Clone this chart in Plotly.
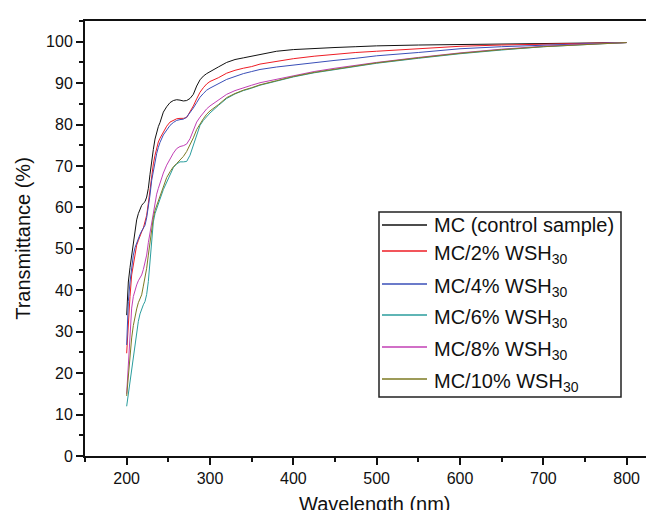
import plotly.graph_objects as go

wavelength = [200, 202, 204, 206, 208, 210, 212, 214, 216, 218, 220, 222, 224, 226, 228, 230,
              232, 234, 236, 238, 240, 244, 248, 252, 256, 260, 264, 268, 272, 276, 280, 284,
              288, 292, 296, 300, 310, 320, 330, 340, 350, 360, 380, 400, 425, 450, 475, 500,
              550, 600, 650, 700, 750, 800]

mc_control = [34, 42, 45.5, 48.5, 52, 55, 57, 58.5, 59.8, 60.5, 61, 61.4, 62.5, 64.6, 68, 71.8,
              74, 76.5, 78.2, 79.5, 80.5, 83, 84.3, 85.3, 85.8, 86, 85.9, 85.7, 85.8, 86.3, 87.3, 89.3,
              90.8, 91.7, 92.3, 92.8, 93.9, 95, 95.7, 96.1, 96.5, 97, 97.7, 98.1, 98.4, 98.6, 98.8, 99,
              99.2, 99.3, 99.4, 99.5, 99.6, 99.8]

mc_2 = [24.8, 32.5, 38.5, 43.7, 46.5, 49, 50.9, 52, 53.2, 54.1, 55, 56.5, 58.1, 61, 64.6, 68,
        70.5, 72.6, 74.3, 75.8, 76.7, 78.3, 79.6, 80.6, 81.1, 81.4, 81.5, 81.5, 81.7, 83, 84.5, 86.2,
        87.8, 88.9, 89.8, 90.4, 91.3, 92.4, 93.1, 93.6, 94, 94.6, 95.3, 95.9, 96.5, 97, 97.4, 97.7,
        98.3, 98.9, 99.2, 99.4, 99.6, 99.8]

mc_4 = [26.8, 37.3, 42, 46, 48.5, 50.3, 51.5, 52.5, 53.5, 54.3, 55, 55.7, 57.5, 60, 63, 66.5,
        69, 71, 73, 74.5, 75.7, 77.5, 78.8, 79.8, 80.5, 81, 81.2, 81.3, 81.8, 82.8, 84, 85.3,
        86.6, 87.5, 88.3, 88.8, 89.8, 90.9, 91.6, 92.3, 92.8, 93.3, 93.9, 94.4, 95, 95.5, 96, 96.6,
        97.4, 98.3, 98.8, 99.2, 99.5, 99.8]

mc_6 = [12, 15, 18.5, 21.2, 24, 27, 30, 32.5, 34.3, 35.5, 36.5, 37.3, 39, 42.1, 47.5, 53.3,
        56.5, 58.5, 59.8, 60.6, 62, 64.3, 66.2, 68, 69.6, 70.5, 71, 71, 71.1, 72.6, 75, 77.8,
        79.8, 81, 82, 82.8, 84.6, 86.3, 87.4, 88.2, 88.8, 89.5, 90.5, 91.5, 92.5, 93.3, 94, 94.8,
        96, 97.1, 98, 98.8, 99.3, 99.8]

mc_8 = [15, 23, 30, 35.7, 38.5, 40.3, 41.3, 42.3, 43, 43.7, 45, 46.8, 48.5, 51.5, 54, 56.5,
        59, 61.3, 63.2, 64.6, 66, 68.3, 70.2, 71.7, 73.1, 74.2, 74.7, 74.9, 75.3, 76.6, 78.8, 80.6,
        81.8, 82.9, 83.8, 84.5, 86, 87.3, 88.2, 88.9, 89.5, 90.1, 90.9, 91.8, 92.8, 93.6, 94.3, 95,
        96.2, 97.3, 98.2, 98.9, 99.4, 99.8]

mc_10 = [14.5, 19, 25.2, 28.5, 31.5, 34, 35.5, 37, 38, 38.9, 41, 43, 45.3, 48.5, 52, 55.4,
         57.5, 59.3, 60.5, 61.4, 62.7, 65.3, 67.2, 68.6, 69.8, 70.6, 71.4, 72.3, 73.5, 75, 76.8, 78.8,
         80.2, 81.4, 82.5, 83.3, 84.8, 86.5, 87.5, 88.3, 88.9, 89.6, 90.6, 91.6, 92.6, 93.4, 94.1, 94.9,
         96.1, 97.2, 98.1, 98.8, 99.3, 99.8]

series_names = ["MC (control sample)", "MC/2% WSH<sub>30</sub>", "MC/4% WSH<sub>30</sub>",
                "MC/6% WSH<sub>30</sub>", "MC/8% WSH<sub>30</sub>", "MC/10% WSH<sub>30</sub>"]
series_values = [mc_control, mc_2, mc_4, mc_6, mc_8, mc_10]
series_colors = ["#111111", "#ee1c24", "#3a4fb8", "#2a9d9d", "#c23fb5", "#7d7a22"]

FONT = "Liberation Sans, Arial, sans-serif"

# plot area geometry (pixels) used to place the hand-drawn legend box
L, R, T, B, W, H = 77, 0, 13, 62, 654, 510
PW, PH = W - L - R, H - T - B
def px(x):
    return (x - L) / PW
def py(y):
    return (H - B - y) / PH

fig = go.Figure()
for name, vals, col in zip(series_names, series_values, series_colors):
    fig.add_trace(go.Scatter(x=wavelength, y=vals, mode="lines", name=name,
                             showlegend=False, line=dict(color=col, width=1)))

# legend (box, line samples, labels)
shapes = [dict(type="rect", xref="paper", yref="paper", x0=px(371), x1=px(613),
               y0=py(389), y1=py(204), line=dict(color="#222222", width=1.5),
               fillcolor="white", layer="above")]
annotations = []
row_y = [217, 243, 276, 307, 339, 371]
for name, col, ry in zip(series_names, series_colors, row_y):
    shapes.append(dict(type="line", xref="paper", yref="paper", x0=px(374), x1=px(419),
                       y0=py(ry), y1=py(ry), line=dict(color=col, width=1.3), layer="above"))
    shift = -3 if "<sub>" in name else 0
    annotations.append(dict(text=name, xref="paper", yref="paper", x=px(424), y=py(ry),
                            xanchor="left", yanchor="middle", yshift=shift, showarrow=False,
                            font=dict(family=FONT, size=20, color="#111111")))

annotations.append(dict(text="Wavelength (nm)", xref="paper", yref="paper", x=px(367),
                        y=py(483), xanchor="center", yanchor="top", showarrow=False,
                        font=dict(family=FONT, size=20, color="#111111")))

fig.update_layout(
    width=W, height=H,
    margin=dict(l=L, r=R, t=T, b=B),
    paper_bgcolor="white", plot_bgcolor="white",
    font=dict(family=FONT, size=16, color="#111111"),
    showlegend=False,
    shapes=shapes,
    annotations=annotations,
    xaxis=dict(range=[150, 842.4], tickmode="linear", tick0=200, dtick=100,
               showgrid=False, zeroline=False,
               showline=True, linecolor="#111111", linewidth=2, mirror=True,
               ticks="outside", ticklen=7, tickwidth=1.5, tickcolor="#111111",
               minor=dict(ticks="outside", ticklen=4, tickwidth=1.5, tickcolor="#111111",
                          dtick=50, tick0=150, showgrid=False),
               tickfont=dict(size=16)),
    yaxis=dict(range=[0, 105], tickmode="linear", tick0=0, dtick=10,
               showgrid=False, zeroline=False,
               showline=True, linecolor="#111111", linewidth=2, mirror=False,
               ticks="outside", ticklen=7, tickwidth=1.5, tickcolor="#111111",
               minor=dict(ticks="outside", ticklen=4, tickwidth=1.5, tickcolor="#111111",
                          dtick=5, tick0=0, showgrid=False),
               tickfont=dict(size=16),
               title=dict(text="Transmittance (%)", font=dict(size=20), standoff=10)),
)

fig.write_html("out.html")
